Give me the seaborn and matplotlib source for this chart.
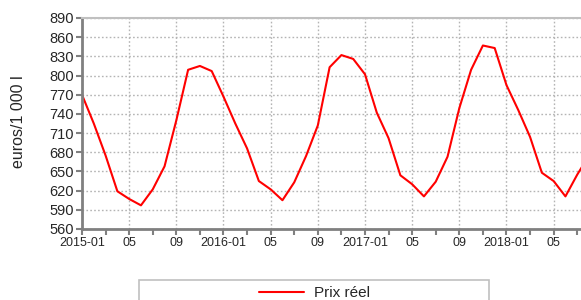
import numpy as np
import pandas as pd
import seaborn as sns
import matplotlib.pyplot as plt
from matplotlib.patches import Rectangle
from matplotlib.ticker import FixedLocator

# monthly real price, euros / 1 000 l, from 2015-01
months = ["2015-01", "2015-02", "2015-03", "2015-04", "2015-05", "2015-06",
          "2015-07", "2015-08", "2015-09", "2015-10", "2015-11", "2015-12",
          "2016-01", "2016-02", "2016-03", "2016-04", "2016-05", "2016-06",
          "2016-07", "2016-08", "2016-09", "2016-10", "2016-11", "2016-12",
          "2017-01", "2017-02", "2017-03", "2017-04", "2017-05", "2017-06",
          "2017-07", "2017-08", "2017-09", "2017-10", "2017-11", "2017-12",
          "2018-01", "2018-02", "2018-03", "2018-04", "2018-05", "2018-06",
          "2018-07", "2018-08"]
prix_reel = [770, 725, 675, 619, 607, 597, 622, 658, 730, 809, 815, 807,
             767, 725, 686, 635, 622, 605, 633, 674, 722, 813, 832, 826,
             802, 742, 702, 644, 630, 611, 634, 673, 749, 809, 847, 843,
             785, 746, 704, 648, 635, 611, 645, 675]

tick_labels = ["2015-01", "05", "09", "2016-01", "05", "09",
               "2017-01", "05", "09", "2018-01", "05"]
y_ticks = [560, 590, 620, 650, 680, 710, 740, 770, 800, 830, 860, 890]

df = pd.DataFrame({"mois": months, "prix": prix_reel})
df["t"] = np.arange(len(df))

sns.set_style("white")
plt.rcParams["font.family"] = ["Liberation Sans", "DejaVu Sans"]

fig = plt.figure(figsize=(5.81, 3.0), dpi=100)
# plot area runs off the right edge of the picture
ax = fig.add_axes([82 / 581, 1 - 229 / 300, 499 / 581, 211 / 300])

sns.lineplot(data=df, x="t", y="prix", color="#ff0000", linewidth=1.5,
             label="Prix réel", ax=ax, legend=False)

ax.set_xlim(0, 42.32)
ax.set_ylim(560, 890)

ax.xaxis.set_major_locator(FixedLocator(np.arange(0, 41, 4)))
ax.xaxis.set_minor_locator(FixedLocator(np.arange(0, 43, 2)))
ax.set_xticklabels(tick_labels)
ax.set_yticks(y_ticks)

ax.grid(True, which="major", color="#b4b4b4", linestyle=(0, (1.2, 1.6)), linewidth=1.0)
ax.tick_params(axis="x", which="both", direction="out", length=4, width=1.5,
               color="#808080", labelsize=9, pad=2, bottom=True)
ax.tick_params(axis="y", direction="out", length=4, width=1.5, color="#808080",
               labelsize=10.5, pad=2, left=True)

for s in ["left", "bottom"]:
    ax.spines[s].set_color("#808080")
    ax.spines[s].set_linewidth(2)
ax.spines["top"].set_color("#c0c0c0")
ax.spines["top"].set_linewidth(1.5)
ax.spines["right"].set_visible(False)

ax.set_xlabel("")
ax.set_ylabel("euros/1 000 l", fontsize=11.5)
ax.yaxis.set_label_coords(-56 / 499, 0.51)

# legend box, cut by the bottom edge
fig.patches.append(Rectangle((139 / 581, -0.05), 350 / 581, 0.05 + 20 / 300,
                             transform=fig.transFigure, fill=False,
                             edgecolor="#c0c0c0", linewidth=1.2))
handles, labels = ax.get_legend_handles_labels()
fig.legend(handles, labels, loc="center", bbox_to_anchor=(314 / 581, 7 / 300),
           frameon=False, fontsize=11, handlelength=3.0, handletextpad=0.6)

fig.savefig("out.png", dpi=100)
